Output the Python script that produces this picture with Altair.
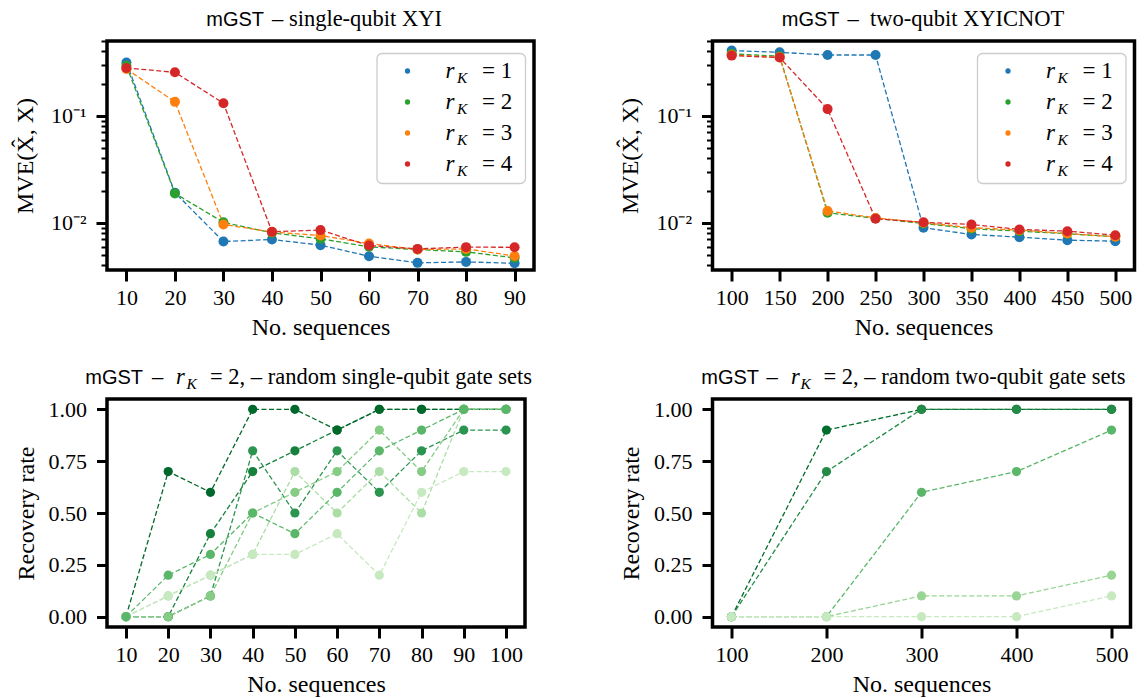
import altair as alt
import pandas as pd

SERIF = "Liberation Serif"
SANS = "Liberation Sans"

# ---------------- data ----------------
rk_labels = ["r_K = 1", "r_K = 2", "r_K = 3", "r_K = 4"]
rk_nums = ["= 1", "= 2", "= 3", "= 4"]
rk_colors = ["#1f77b4", "#2ca02c", "#ff7f0e", "#d62728"]

tl_x = [10, 20, 30, 40, 50, 60, 70, 80, 90]
tl_rk1 = [0.315, 0.0191, 0.00668, 0.00698, 0.00618, 0.00487, 0.00422, 0.00431, 0.00418]
tl_rk2 = [0.294, 0.0188, 0.0101, 0.00805, 0.00708, 0.00596, 0.00562, 0.00535, 0.0047]
tl_rk3 = [0.274, 0.135, 0.00965, 0.0082, 0.0076, 0.0064, 0.00562, 0.0057, 0.0049]
tl_rk4 = [0.280, 0.255, 0.131, 0.00824, 0.00854, 0.00613, 0.0057, 0.00592, 0.0059]

tr_x = [100, 150, 200, 250, 300, 350, 400, 450, 500]
tr_rk1 = [0.407, 0.392, 0.370, 0.370, 0.00898, 0.00778, 0.00734, 0.00688, 0.00673]
tr_rk2 = [0.379, 0.360, 0.0124, 0.0110, 0.00986, 0.0088, 0.00835, 0.0079, 0.0074]
tr_rk3 = [0.370, 0.352, 0.0129, 0.0111, 0.0100, 0.0090, 0.00854, 0.00794, 0.0074]
tr_rk4 = [0.365, 0.350, 0.1155, 0.0109, 0.0101, 0.00965, 0.00866, 0.00835, 0.00766]

bl_x = [10, 20, 30, 40, 50, 60, 70, 80, 90, 100]
bl_names = ["g1", "g2", "g3", "g4", "g5", "g6", "g7"]
bl_colors = ["#17803c", "#00682a", "#2b9550", "#86cc85", "#acdda6", "#c7e9c0", "#5ab769"]
bl_g1 = [0, 0.0, 0.4, 0.7, 0.8, 0.9, 1.0, 1.0, 1.0, 1.0]
bl_g2 = [0, 0.7, 0.6, 1.0, 1.0, 0.9, 1.0, 1.0, 1.0, 1.0]
bl_g3 = [0, 0.0, 0.1, 0.8, 0.5, 0.8, 0.6, 0.8, 0.9, 0.9]
bl_g4 = [0, 0.0, 0.1, 0.5, 0.6, 0.7, 0.9, 0.7, 1.0, 1.0]
bl_g5 = [0, 0.1, 0.2, 0.3, 0.7, 0.5, 0.7, 0.5, 1.0, 1.0]
bl_g6 = [0, 0.1, 0.2, 0.3, 0.3, 0.4, 0.2, 0.6, 0.7, 0.7]
bl_g7 = [0, 0.2, 0.3, 0.5, 0.4, 0.6, 0.8, 0.9, 1.0, 1.0]

br_x = [100, 200, 300, 400, 500]
br_names = ["h1", "h2", "h3", "h4", "h5"]
br_colors = ["#006d2c", "#238b45", "#5ab769", "#98d594", "#c7e9c0"]
br_h1 = [0, 0.9, 1.0, 1.0, 1.0]
br_h2 = [0, 0.7, 1.0, 1.0, 1.0]
br_h3 = [0, 0.0, 0.6, 0.7, 0.9]
br_h4 = [0, 0.0, 0.1, 0.1, 0.2]
br_h5 = [0, 0.0, 0.0, 0.0, 0.1]

log_ticks = [0.004, 0.005, 0.006, 0.007, 0.008, 0.009,
             0.01, 0.02, 0.03, 0.04, 0.05, 0.06, 0.07, 0.08, 0.09,
             0.1, 0.2, 0.3, 0.4, 0.5]
rate_ticks = [0, 0.25, 0.5, 0.75, 1.0]


def long_df(xs, names, series):
    rows = []
    for n, ys in zip(names, series):
        for x, y in zip(xs, ys):
            rows.append({"x": x, "y": y, "s": n})
    return pd.DataFrame(rows)


ONE = pd.DataFrame({"a": [0]})
FRAME = alt.ViewBackground(stroke="black", strokeWidth=3.5, fill="white")


def xaxis(values, W):
    return alt.Axis(values=values, format="d", labelFont=SERIF, labelFontSize=22,
                    labelColor="black", tickColor="black", tickSize=11, tickWidth=3,
                    labelPadding=6, domain=False, grid=False, title="No. sequences",
                    titleFont=SERIF, titleFontSize=24, titleFontWeight="normal",
                    titleColor="black", titleX=W / 2, titleY=57, titleBaseline="middle")


def text_piece(txt, x, y, size=22.5, font=SERIF, align="left", style="normal"):
    return alt.Chart(ONE).mark_text(text=txt, font=font, fontSize=size, align=align,
                                    baseline="alphabetic", color="black",
                                    fontStyle=style).encode(x=alt.value(x), y=alt.value(y))


def log_panel(xs, series, xdomain, xticks, W, H, title_serif, a, b):
    df = long_df(xs, rk_labels, series)
    cscale = alt.Scale(domain=rk_labels, range=rk_colors)
    major = "datum.value == 0.1 || datum.value == 0.01"
    yax = alt.Axis(values=log_ticks,
                   labelExpr="datum.value == 0.1 ? '10⁻¹' : (datum.value == 0.01 ? '10⁻²' : '')",
                   labelFont=SERIF, labelFontSize=22, labelColor="black", tickColor="black",
                   tickSize={"condition": {"test": major, "value": 11}, "value": 6},
                   tickWidth={"condition": {"test": major, "value": 3}, "value": 2},
                   labelPadding=10, domain=False, grid=False, title="MVE(X̂, X)",
                   titleFont=SERIF, titleFontSize=24, titleFontWeight="normal",
                   titleColor="black", titleX=-82, titleY=H / 2, titleBaseline="middle")
    x = alt.X("x:Q", scale=alt.Scale(domain=xdomain, nice=False, zero=False), axis=xaxis(xticks, W))
    y = alt.Y("y:Q", scale=alt.Scale(type="log", domain=[0.00362, 0.5], nice=False), axis=yax)
    c = alt.Color("s:N", scale=cscale, legend=None)
    lines = alt.Chart(df).mark_line(strokeDash=[5, 2.5], strokeWidth=1.3).encode(x=x, y=y, color=c)
    pts = alt.Chart(df).mark_circle(size=100, opacity=1).encode(x=x, y=y, color=c)

    leg = pd.DataFrame({"s": rk_labels, "num": rk_nums, "row": [0, 1, 2, 3]})
    box = alt.Chart(ONE).mark_rect(fill="white", fillOpacity=0.85, stroke="#cccccc",
                                   strokeWidth=1.3, cornerRadius=5).encode(
        x=alt.value(W - 157), x2=alt.value(W - 8.5), y=alt.value(12.5), y2=alt.value(142.5))
    ldot = alt.Chart(leg).mark_circle(size=28, opacity=1).transform_calculate(
        py="30 + 31*datum.row").encode(x=alt.value(W - 126.5),
                                       y=alt.Y("py:Q", scale=None, axis=None),
                                       color=alt.Color("s:N", scale=cscale, legend=None))
    lr = alt.Chart(leg).mark_text(text="r", font=SERIF, fontSize=23, fontStyle="italic",
                                  align="left", baseline="alphabetic", color="black").transform_calculate(
        py="37 + 31*datum.row").encode(x=alt.value(W - 88.5), y=alt.Y("py:Q", scale=None, axis=None))
    lk = alt.Chart(leg).mark_text(text="K", font=SERIF, fontSize=15.5, fontStyle="italic",
                                  align="left", baseline="alphabetic", color="black").transform_calculate(
        py="42 + 31*datum.row").encode(x=alt.value(W - 77), y=alt.Y("py:Q", scale=None, axis=None))
    le = alt.Chart(leg).mark_text(font=SERIF, fontSize=23, align="left", baseline="alphabetic",
                                  color="black").transform_calculate(
        py="37 + 31*datum.row").encode(x=alt.value(W - 52), y=alt.Y("py:Q", scale=None, axis=None),
                                       text="num:N")
    t1 = text_piece("mGST", a, -15, size=20, font=SANS, align="right")
    t2 = text_piece(title_serif, b, -15)
    return alt.layer(lines, pts, box, ldot, lr, lk, le, t1, t2).properties(
        width=W, height=H, view=FRAME)


def rate_panel(xs, names, colors, series, xdomain, xticks, W, H, rest, pos):
    df = long_df(xs, names, series)
    cscale = alt.Scale(domain=names, range=colors)
    yax = alt.Axis(values=rate_ticks, format=".2f", labelFont=SERIF, labelFontSize=22,
                   labelColor="black", tickColor="black", tickSize=10.5, tickWidth=3,
                   labelPadding=10, domain=False, grid=False, title="Recovery rate",
                   titleFont=SERIF, titleFontSize=24, titleFontWeight="normal",
                   titleColor="black", titleX=-81, titleY=H / 2, titleBaseline="middle")
    x = alt.X("x:Q", scale=alt.Scale(domain=xdomain, nice=False, zero=False), axis=xaxis(xticks, W))
    y = alt.Y("y:Q", scale=alt.Scale(domain=[-0.05, 1.05], nice=False, zero=False), axis=yax)
    c = alt.Color("s:N", scale=cscale, legend=None)
    lines = alt.Chart(df).mark_line(strokeDash=[5, 2.5], strokeWidth=1.3).encode(x=x, y=y, color=c)
    pts = alt.Chart(df).mark_circle(size=85, opacity=1).encode(x=x, y=y, color=c)
    a, b, cc, d, e = pos
    t1 = text_piece("mGST", a, -15, size=20, font=SANS, align="right")
    t2 = text_piece("–", b, -15)
    t3 = text_piece("r", cc, -15, style="italic")
    t4 = text_piece("K", d, -10, size=15.5, style="italic")
    t5 = text_piece(rest, e, -15)
    return alt.layer(lines, pts, t1, t2, t3, t4, t5).properties(width=W, height=H, view=FRAME)


tl = log_panel(tl_x, [tl_rk1, tl_rk2, tl_rk3, tl_rk4], [6, 94], tl_x, 427, 229,
               "– single-qubit XYI", 157, 165)
tr = log_panel(tr_x, [tr_rk1, tr_rk2, tr_rk3, tr_rk4], [80, 520], tr_x, 422, 229,
               "–\u00a0\u00a0two-qubit XYICNOT", 127, 135)
bl = rate_panel(bl_x, bl_names, bl_colors, [bl_g1, bl_g2, bl_g3, bl_g4, bl_g5, bl_g6, bl_g7],
                [5.5, 104.5], bl_x, 418, 228, "= 2, – random single-qubit gate sets",
                (36, 45, 69, 79.5, 103))
br = rate_panel(br_x, br_names, br_colors, [br_h1, br_h2, br_h3, br_h4, br_h5],
                [80, 520], br_x, 418, 228, "= 2, – random two-qubit gate sets",
                (46.5, 54, 78.4, 88, 111))

chart = alt.concat(tl, tr, bl, br, columns=2, bounds="flush",
                   spacing={"row": 129, "column": 178.5}).resolve_scale(
    color="independent").properties(
    padding={"left": 11, "top": 6, "right": 0, "bottom": 0},
    background="white")

chart.save("out.html", embed_options={"renderer": "svg", "actions": False})
